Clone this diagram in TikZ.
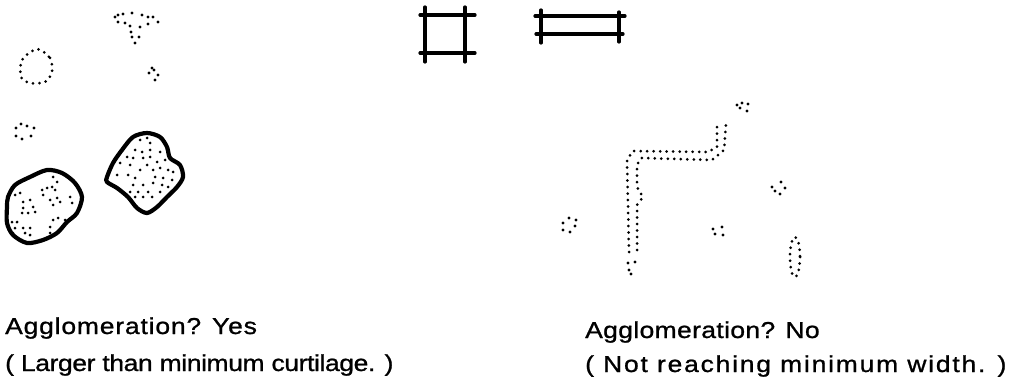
\documentclass[tikz,border=0pt]{standalone}
\usepackage{fontspec}
\usepackage{tikz}
\usetikzlibrary{positioning}
\newfontfamily\capfont{Liberation Sans}[FakeStretch=1.15,FakeBold=1]
\def\captext{\fontsize{23}{27}\selectfont\capfont}

\begin{document}
\begin{tikzpicture}[x=1pt,y=-1pt,
  dotline/.style={line width=3pt,line cap=round,dash pattern=on 0pt off 6.5pt},
  blob/.style={line width=4.2pt,line join=round},
  bar/.style={line width=3.2pt,line cap=round},
  caption/.style={anchor=base west,inner sep=0pt}]
\useasboundingbox (0,0) rectangle (1014,382);
% left: loose dots
\draw[dotline] plot[smooth cycle] coordinates {(37,49) (50,58) (52,72) (45,82) (30,83) (21,77) (22,60)};
\foreach \p in {(115,17),(118,15),(123,14),(132,13),(142,15),(148,17),(153,17),(158,22),(148,24),(140,27),(130,26),(125,23),(118,22),(131,32),(139,37),(132,37),(135,43)}
  \fill \p circle (1.6);
\foreach \p in {(152,68),(154,70),(149,73),(158,75),(155,80)}
  \fill \p circle (1.6);
\foreach \p in {(16,128),(21,124),(27,126),(34,128),(16,136),(22,139),(31,136)}
  \fill \p circle (1.6);
% left: built-up blobs
\draw[blob] plot[smooth cycle] coordinates {(8,197) (15,185) (30,177) (47,170) (62,173) (75,183) (82,197) (77,213) (67,222) (57,233) (43,240) (27,243) (13,235) (7,223) (7,207)};
\foreach \p in {(53,177),(57,182),(42,190),(47,188),(52,187),(55,190),(15,195),(20,193),(43,195),(50,200),(57,198),(70,197),(23,202),(30,200),(53,205),(60,202),(72,203),(23,208),(33,207),(22,213),(28,213),(35,212),(12,222),(17,222),(53,220),(58,218),(65,220),(15,228),(23,228),(30,228),(50,227),(25,233),(30,235),(13,233),(50,233)}
  \fill \p circle (1.5);
\draw[blob] plot[smooth cycle] coordinates {(107,177) (113,163) (122,150) (133,137) (147,133) (160,137) (167,147) (170,158) (180,165) (183,177) (177,187) (167,197) (157,207) (147,213) (137,208) (128,197) (117,188) (107,182)};
\foreach \p in {(140,140),(147,138),(150,143),(135,150),(142,152),(150,150),(160,152),(167,150),(127,157),(133,158),(143,158),(150,157),(157,162),(165,160),(120,163),(130,165),(147,165),(140,170),(153,170),(160,168),(168,170),(173,172),(117,175),(128,175),(135,178),(155,177),(163,178),(172,180),(133,185),(143,185),(153,183),(162,185),(168,187),(130,192),(138,192),(148,192),(160,192),(135,197),(143,197),(152,197)}
  \fill \p circle (1.5);
% symbols at the top
\draw[bar] (425,7) -- (425,62);
\draw[bar] (465,7) -- (465,62);
\draw[bar] (420,15) -- (475,15);
\draw[bar] (420,53) -- (475,53);
\draw[bar] (541,10) -- (541,43);
\draw[bar] (619,12) -- (619,42);
\draw[bar] (535,16) -- (625,16);
\draw[bar] (536,34) -- (623,34);
% right: narrow ribbon
\draw[dotline] (629,252) -- (627,160) -- (633,151) -- (708,152) -- (717,147) -- (717,124);
\draw[dotline] (637,250) -- (637,205) -- (643,197) -- (637,187) -- (637,165) -- (641,158) -- (712,160) -- (724,150) -- (726,123);
\foreach \p in {(628,263),(635,262),(629,270),(631,274)}
  \fill \p circle (1.6);
\foreach \p in {(737,105),(742,103),(748,104),(740,108),(747,111)}
  \fill \p circle (1.6);
\foreach \p in {(563,223),(569,218),(576,220),(575,226),(570,232),(563,230)}
  \fill \p circle (1.6);
\foreach \p in {(713,229),(722,227),(715,234),(723,235)}
  \fill \p circle (1.6);
\foreach \p in {(772,187),(781,182),(785,188),(780,194),(775,191)}
  \fill \p circle (1.6);
\draw[dotline] (795,257) ellipse (5 and 20);
% captions
\node[caption,font={\captext\addfontfeatures{LetterSpace=3.6}}] (yes) at (5,334) {Agglomeration? Yes};
\node[caption,font={\captext\addfontfeatures{LetterSpace=-1.7}}] (yeswhy) at (5,371) {( Larger than minimum curtilage. )};
\node[caption,font={\captext\addfontfeatures{LetterSpace=1.6}}] (no) at (585,338) {Agglomeration? No};
\node[caption,font={\captext\addfontfeatures{LetterSpace=7.8}}] (nowhy) at (585,372) {( Not reaching minimum width. )};
\end{tikzpicture}
\end{document}
